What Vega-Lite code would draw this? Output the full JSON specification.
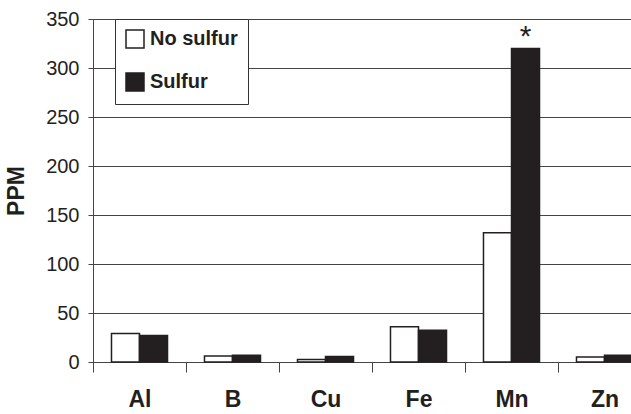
{
  "$schema": "https://vega.github.io/schema/vega-lite/v6.json",
  "width": 558,
  "height": 343,
  "autosize": {"type": "none"},
  "padding": {"left": 93, "top": 19, "right": 0, "bottom": 52},
  "background": "white",
  "config": {"view": {"stroke": null}, "font": "Liberation Sans"},
  "data": {
    "values": [
      {"element": "Al", "treatment": "No sulfur", "ppm": 29, "note": ""},
      {"element": "Al", "treatment": "Sulfur", "ppm": 27, "note": ""},
      {"element": "B", "treatment": "No sulfur", "ppm": 6, "note": ""},
      {"element": "B", "treatment": "Sulfur", "ppm": 7, "note": ""},
      {"element": "Cu", "treatment": "No sulfur", "ppm": 2.5, "note": ""},
      {"element": "Cu", "treatment": "Sulfur", "ppm": 5.5, "note": ""},
      {"element": "Fe", "treatment": "No sulfur", "ppm": 36, "note": ""},
      {"element": "Fe", "treatment": "Sulfur", "ppm": 32.5, "note": ""},
      {"element": "Mn", "treatment": "No sulfur", "ppm": 132, "note": ""},
      {"element": "Mn", "treatment": "Sulfur", "ppm": 320, "note": "*"},
      {"element": "Zn", "treatment": "No sulfur", "ppm": 5, "note": ""},
      {"element": "Zn", "treatment": "Sulfur", "ppm": 7, "note": ""}
    ]
  },
  "encoding": {
    "x": {
      "field": "element",
      "type": "nominal",
      "sort": null,
      "scale": {"paddingInner": 0, "paddingOuter": 0},
      "axis": {
        "title": null,
        "labelAngle": 0,
        "labelFontSize": 23,
        "labelFontWeight": "bold",
        "labelColor": "#231f20",
        "tickBand": "extent",
        "tickSize": 10,
        "tickColor": "#444444",
        "domainColor": "#444444",
        "labelPadding": 16
      }
    },
    "xOffset": {
      "field": "treatment",
      "sort": ["No sulfur", "Sulfur"],
      "scale": {"paddingInner": 0, "paddingOuter": 0.66}
    },
    "y": {
      "field": "ppm",
      "type": "quantitative",
      "scale": {"domain": [0, 350], "nice": false},
      "axis": {
        "title": "PPM",
        "titleFontSize": 23,
        "titleFontWeight": "bold",
        "titleColor": "#231f20",
        "titlePadding": 17,
        "values": [0, 50, 100, 150, 200, 250, 300, 350],
        "labelFontSize": 20,
        "labelColor": "#231f20",
        "labelPadding": 9,
        "tickSize": 5,
        "tickColor": "#444444",
        "domainColor": "#444444",
        "grid": true,
        "gridColor": "#444444",
        "gridOpacity": 1
      }
    }
  },
  "layer": [
    {
      "mark": {"type": "bar", "stroke": "#231f20", "strokeWidth": 1.5},
      "encoding": {
        "fill": {
          "field": "treatment",
          "type": "nominal",
          "scale": {"domain": ["No sulfur", "Sulfur"], "range": ["#ffffff", "#231f20"]},
          "legend": {
            "orient": "none",
            "legendX": 22,
            "legendY": 0,
            "title": null,
            "symbolType": "square",
            "symbolSize": 324,
            "symbolStrokeColor": "#231f20",
            "symbolStrokeWidth": 1.5,
            "labelFontSize": 20,
            "labelFontWeight": "bold",
            "labelColor": "#231f20",
            "labelOffset": 5,
            "rowPadding": 19,
            "padding": 10,
            "strokeColor": "#333333",
            "fillColor": "white"
          }
        }
      }
    },
    {
      "mark": {"type": "text", "fontSize": 30, "baseline": "alphabetic", "dy": -2, "color": "#231f20"},
      "encoding": {
        "text": {"field": "note"}
      }
    }
  ]
}
